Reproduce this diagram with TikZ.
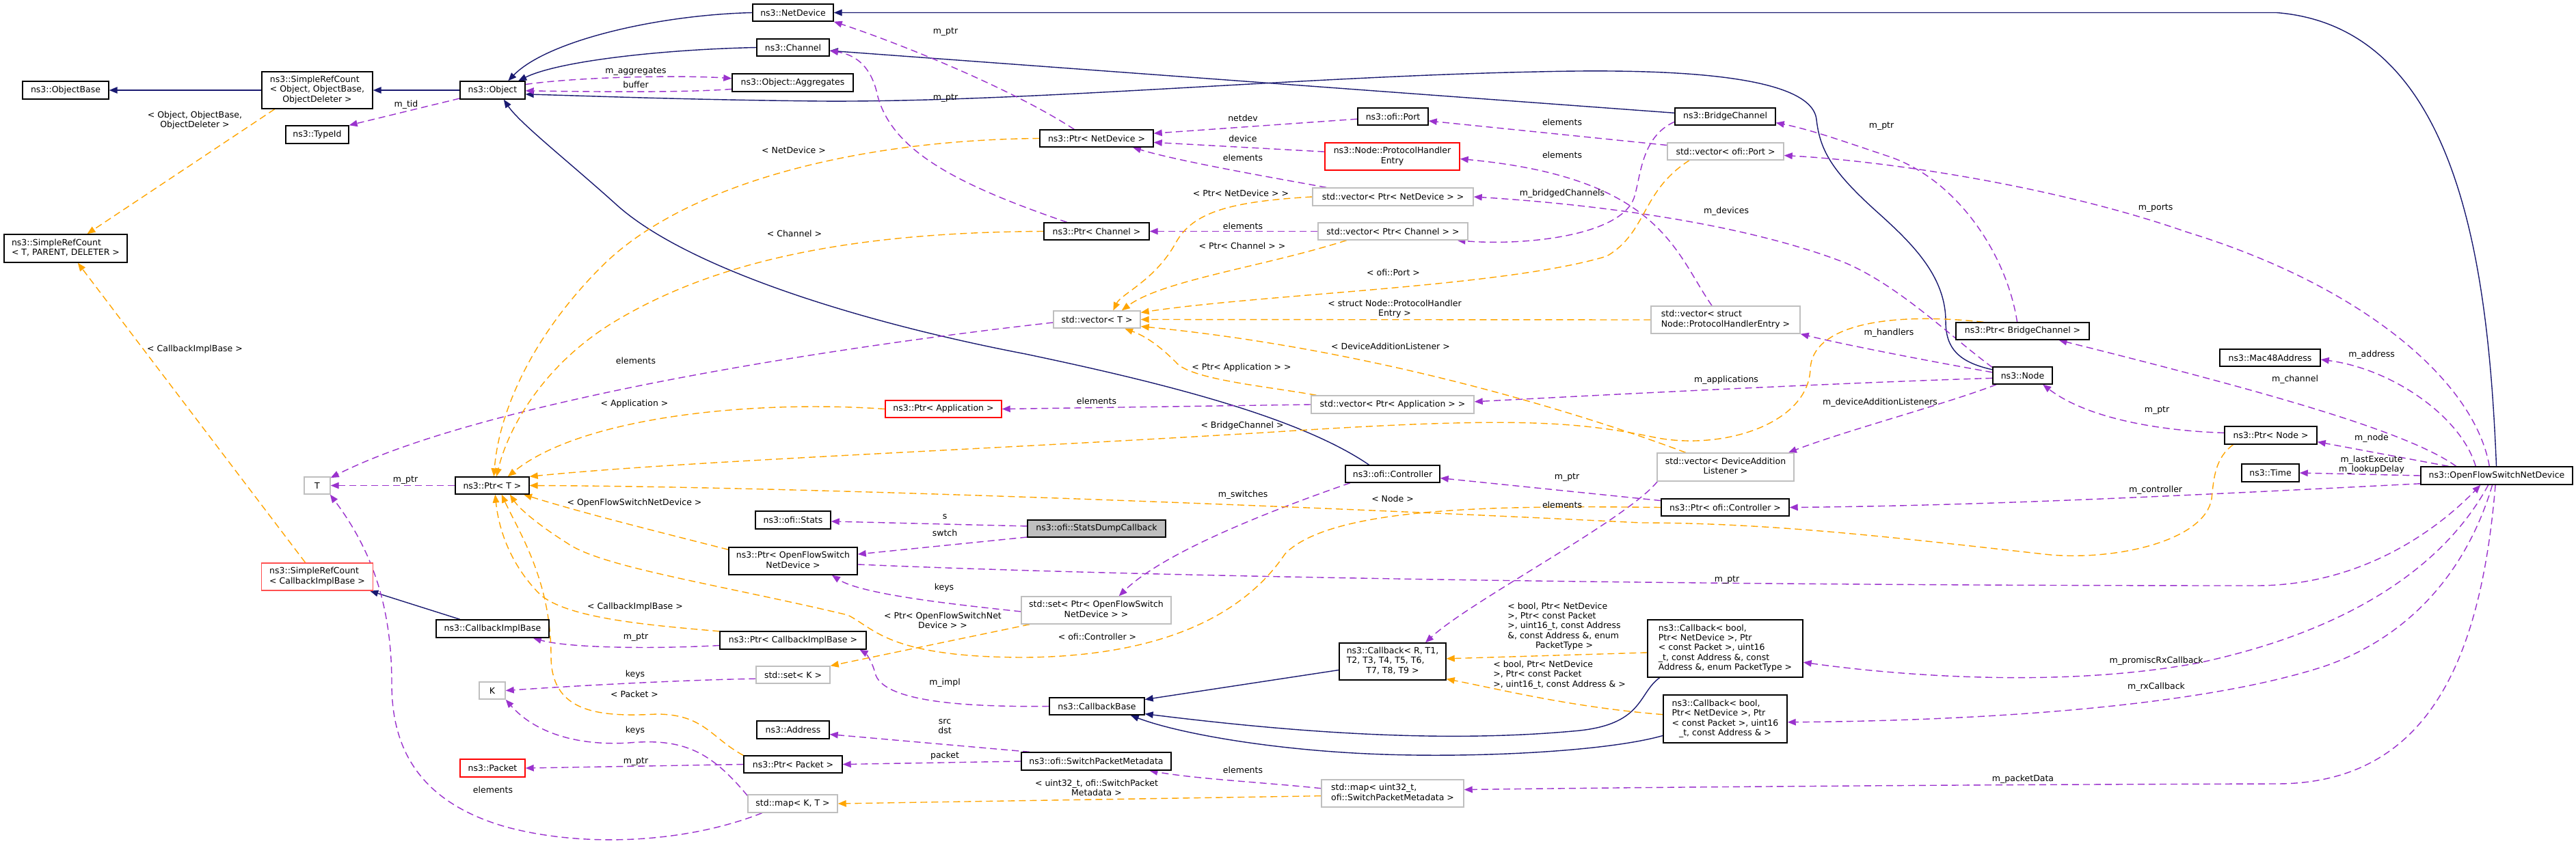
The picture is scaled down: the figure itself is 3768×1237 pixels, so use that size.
\documentclass[tikz,border=0pt]{standalone}
\usepackage{fontspec}
\setmainfont{DejaVu Sans}
\usetikzlibrary{arrows.meta}
\definecolor{inhblue}{RGB}{25,25,112}
\definecolor{usepurple}{RGB}{154,50,205}
\definecolor{tplorange}{RGB}{255,165,0}
\definecolor{boxgray}{RGB}{191,191,191}
\definecolor{boxred}{RGB}{255,0,0}
\definecolor{boxlred}{RGB}{255,80,80}
\newcommand{\twol}[2]{\begin{tabular}{@{}l@{}}#1\\\multicolumn{1}{@{}c@{}}{#2}\end{tabular}}
\pgfdeclarelayer{edgelayer}
\pgfsetlayers{edgelayer,main}
\tikzset{
  box/.style={draw=black, line width=1.4pt, fill=white, inner sep=2pt, text=black},
  gbox/.style={box, draw=boxgray},
  rbox/.style={box, draw=boxred},
  sz/.style 2 args={minimum width=#1pt, minimum height=#2pt},
  lbl/.style={inner sep=0pt, align=center, text=black},
  tip/.style={-{Triangle[length=12pt,width=9.5pt]}},
  inh/.style={tip, draw=inhblue, line width=1.4pt},
  use/.style={tip, draw=usepurple, line width=1.4pt, dash pattern=on 10pt off 6pt},
  tpl/.style={tip, draw=tplorange, line width=1.4pt, dash pattern=on 10pt off 6pt},
}
\begin{document}
\begin{tikzpicture}[x=1pt, y=-1pt, font=\fontsize{12.5pt}{14.4pt}\selectfont]
\useasboundingbox (0,0) rectangle (3768,1237);
% ---------------- nodes ----------------
\node[box,sz={126}{26}] (ObjectBase) at (96,132) {ns3::ObjectBase};
\node[box,sz={162}{54}] (SRCobj) at (464,132) {\twol{ns3::SimpleRefCount\\< Object, ObjectBase,}{ObjectDeleter >}};
\node[box,sz={95}{26}] (Object) at (720.5,132) {ns3::Object};
\node[box,sz={92}{26}] (TypeId) at (464,197) {ns3::TypeId};
\node[box,sz={180}{41}] (SRCT) at (96,363.5) {\twol{ns3::SimpleRefCount}{< T, PARENT, DELETER >}};
\node[gbox,sz={38}{25}] (T) at (464,710.5) {T};
\node[box,sz={108}{25}] (PtrT) at (720,710.5) {ns3::Ptr< T >};
\node[box,draw=boxlred,sz={163}{40}] (SRCcib) at (464,844) {\twol{ns3::SimpleRefCount}{< CallbackImplBase >}};
\node[box,sz={165}{26}] (CIB) at (720.5,920) {ns3::CallbackImplBase};
\node[gbox,sz={38}{25}] (K) at (720,1010.5) {K};
\node[rbox,sz={95}{26}] (Packet) at (720.5,1124) {ns3::Packet};
\node[box,sz={118}{25}] (NetDevice) at (1160,18.5) {ns3::NetDevice};
\node[box,sz={106}{25}] (Channel) at (1160,69.5) {ns3::Channel};
\node[box,sz={177}{26}] (Aggregates) at (1159.5,121) {ns3::Object::Aggregates};
\node[box,sz={166}{25}] (PtrNetDevice) at (1604,202.5) {ns3::Ptr< NetDevice >};
\node[box,sz={154}{25}] (PtrChannel) at (1604,338.5) {ns3::Ptr< Channel >};
\node[gbox,sz={127}{25}] (vecT) at (1604.5,467.5) {std::vector< T >};
\node[rbox,sz={170}{25}] (PtrApp) at (1380,598.5) {ns3::Ptr< Application >};
\node[box,sz={110}{26}] (Stats) at (1160,761) {ns3::ofi::Stats};
\node[box,fill=boxgray,sz={202}{25}] (SDC) at (1604,773.5) {ns3::ofi::StatsDumpCallback};
\node[box,sz={188}{40}] (PtrOFSND) at (1160,821) {\twol{ns3::Ptr< OpenFlowSwitch}{NetDevice >}};
\node[gbox,sz={219}{40}] (setPtrOFSND) at (1603.5,893) {\twol{std::set< Ptr< OpenFlowSwitch}{NetDevice > >}};
\node[box,sz={214}{26}] (PtrCIB) at (1160,937) {ns3::Ptr< CallbackImplBase >};
\node[gbox,sz={108}{25}] (setK) at (1160,987.5) {std::set< K >};
\node[box,sz={139}{25}] (CallbackBase) at (1604.5,1033.5) {ns3::CallbackBase};
\node[box,sz={106}{26}] (Address) at (1160,1068) {ns3::Address};
\node[box,sz={144}{25}] (PtrPacket) at (1160,1118.5) {ns3::Ptr< Packet >};
\node[box,sz={219}{26}] (SPM) at (1603.5,1114) {ns3::ofi::SwitchPacketMetadata};
\node[gbox,sz={131}{26}] (mapKT) at (1159.5,1176) {std::map< K, T >};
\node[box,sz={103}{25}] (Port) at (2037.5,170.5) {ns3::ofi::Port};
\node[rbox,sz={197}{40}] (PHE) at (2036.5,229) {\twol{ns3::Node::ProtocolHandler}{Entry}};
\node[box,sz={147}{25}] (BridgeChannel) at (2523.5,170.5) {ns3::BridgeChannel};
\node[gbox,sz={170}{25}] (vecPort) at (2524,221.5) {std::vector< ofi::Port >};
\node[gbox,sz={235}{26}] (vecPtrND) at (2037.5,288) {std::vector< Ptr< NetDevice > >};
\node[gbox,sz={219}{25}] (vecPtrCh) at (2037.5,338.5) {std::vector< Ptr< Channel > >};
\node[gbox,sz={218}{40}] (vecPHE) at (2524,468) {\twol{std::vector< struct}{Node::ProtocolHandlerEntry >}};
\node[gbox,sz={238}{26}] (vecPtrApp) at (2037,592) {std::vector< Ptr< Application > >};
\node[box,sz={138}{25}] (Controller) at (2037,693.5) {ns3::ofi::Controller};
\node[gbox,sz={200}{41}] (vecDAL) at (2524,683.5) {\twol{std::vector< DeviceAddition}{Listener >}};
\node[box,sz={187}{25}] (PtrController) at (2523.5,742.5) {ns3::Ptr< ofi::Controller >};
\node[box,sz={156}{54}] (CallbackR) at (2037,968) {\twol{ns3::Callback< R, T1,\\T2, T3, T4, T5, T6,}{T7, T8, T9 >}};
\node[box,sz={227}{84}] (CallbackPT) at (2523.5,949) {\twol{ns3::Callback< bool,\\ Ptr< NetDevice >, Ptr\\< const Packet >, uint16\\\_t, const Address \&, const}{ Address \&, enum PacketType >}};
\node[box,sz={181}{70}] (CallbackAddr) at (2523.5,1052) {\twol{ns3::Callback< bool,\\ Ptr< NetDevice >, Ptr\\< const Packet >, uint16}{\_t, const Address \& >}};
\node[gbox,sz={208}{40}] (mapU32) at (2037,1161) {\twol{std::map< uint32\_t,}{ofi::SwitchPacketMetadata >}};
\node[box,sz={195}{25}] (PtrBridge) at (2958.5,484.5) {ns3::Ptr< BridgeChannel >};
\node[box,sz={87}{25}] (Node) at (2958.5,549.5) {ns3::Node};
\node[box,sz={147}{25}] (Mac48) at (3320.5,523.5) {ns3::Mac48Address};
\node[box,sz={135}{26}] (PtrNode) at (3321.5,637) {ns3::Ptr< Node >};
\node[box,sz={84}{26}] (Time) at (3321,692) {ns3::Time};
\node[box,sz={222}{26}] (OFSND) at (3652,696) {ns3::OpenFlowSwitchNetDevice};
% ---------------- edge labels ----------------
\node[lbl] (l01) at (285,176) {< Object, ObjectBase,\\ObjectDeleter >};
\node[lbl] (l02) at (594,153) {m\_tid};
\node[lbl] (l03) at (285,511) {< CallbackImplBase >};
\node[lbl] (l04) at (593,703) {m\_ptr};
\node[lbl] (l05) at (930,528) {elements};
\node[lbl] (l06) at (928,591) {< Application >};
\node[lbl] (l07) at (928,736) {< OpenFlowSwitchNetDevice >};
\node[lbl] (l08) at (721,1156) {elements};
\node[lbl] (l09) at (929,987) {keys};
\node[lbl] (l10) at (928,1016) {< Packet >};
\node[lbl] (l11) at (929,1069) {keys};
\node[lbl] (l12) at (930,933) {m\_ptr};
\node[lbl] (l13) at (930,1115) {m\_ptr};
\node[lbl] (l14) at (929,888) {< CallbackImplBase >};
\node[lbl] (l15) at (1383,47) {m\_ptr};
\node[lbl] (l16) at (1383,144) {m\_ptr};
\node[lbl] (l17) at (930,105) {m\_aggregates};
\node[lbl] (l18) at (930,124) {buffer};
\node[lbl] (l19) at (1161,220) {< NetDevice >};
\node[lbl] (l20) at (1162,342) {< Channel >};
\node[lbl] (l21) at (1818,173) {netdev};
\node[lbl] (l22) at (1818,203) {device};
\node[lbl] (l23) at (1818,231) {elements};
\node[lbl] (l24) at (1815,283) {< Ptr< NetDevice > >};
\node[lbl] (l25) at (1818,331) {elements};
\node[lbl] (l26) at (1817,360) {< Ptr< Channel > >};
\node[lbl] (l27) at (1604,587) {elements};
\node[lbl] (l28) at (1816,538) {< Ptr< Application > >};
\node[lbl] (l29) at (1817,623) {< BridgeChannel >};
\node[lbl] (l30) at (1818,724) {m\_switches};
\node[lbl] (l31) at (1382,756) {s};
\node[lbl] (l32) at (1382,780) {swtch};
\node[lbl] (l33) at (1381,860) {keys};
\node[lbl] (l34) at (1379,908) {< Ptr< OpenFlowSwitchNet\\Device > >};
\node[lbl] (l35) at (1605,932) {< ofi::Controller >};
\node[lbl] (l36) at (1382,999) {m\_impl};
\node[lbl] (l37) at (1382,1063) {src\\dst};
\node[lbl] (l38) at (1382,1106) {packet};
\node[lbl] (l39) at (1818,1127) {elements};
\node[lbl] (l40) at (1604,1153) {< uint32\_t, ofi::SwitchPacket\\Metadata >};
\node[lbl] (l41) at (2285,179) {elements};
\node[lbl] (l42) at (2285,227) {elements};
\node[lbl] (l43) at (2285,283) {m\_bridgedChannels};
\node[lbl] (l44) at (2525,309) {m\_devices};
\node[lbl] (l45) at (2752,185) {m\_ptr};
\node[lbl] (l46) at (2038,399) {< ofi::Port >};
\node[lbl] (l47) at (2040,452) {< struct Node::ProtocolHandler\\Entry >};
\node[lbl] (l48) at (2034,507) {< DeviceAdditionListener >};
\node[lbl] (l49) at (2525,556) {m\_applications};
\node[lbl] (l50) at (2763,487) {m\_handlers};
\node[lbl] (l51) at (2750,589) {m\_deviceAdditionListeners};
\node[lbl] (l52) at (2292,699) {m\_ptr};
\node[lbl] (l53) at (2037,730) {< Node >};
\node[lbl] (l54) at (2285,739) {elements};
\node[lbl] (l55) at (2526,849) {m\_ptr};
\node[lbl] (l56) at (2288,917) {\twol{< bool, Ptr< NetDevice\\>, Ptr< const Packet\\>, uint16\_t, const Address\\\&, const Address \&, enum}{PacketType >}};
\node[lbl] (l57) at (2281,988) {\twol{< bool, Ptr< NetDevice\\>, Ptr< const Packet}{>, uint16\_t, const Address \& >}};
\node[lbl] (l58) at (3153,305) {m\_ports};
\node[lbl] (l59) at (3469,519) {m\_address};
\node[lbl] (l60) at (3357,555) {m\_channel};
\node[lbl] (l61) at (3155,601) {m\_ptr};
\node[lbl] (l62) at (3469,641) {m\_node};
\node[lbl] (l63) at (3469,680) {m\_lastExecute\\m\_lookupDelay};
\node[lbl] (l64) at (3153,717) {m\_controller};
\node[lbl] (l65) at (3154,967) {m\_promiscRxCallback};
\node[lbl] (l66) at (3154,1005) {m\_rxCallback};
\node[lbl] (l67) at (2959,1140) {m\_packetData};
% ---------------- edges ----------------
\begin{pgfonlayer}{edgelayer}
\fill[white] (0,0) rectangle (3768,1237);
% inheritance
\draw[inh] (SRCobj.west) -- (ObjectBase.east);
\draw[inh] (Object.west) -- (SRCobj.east);
\draw[inh] (NetDevice.west) .. controls (960,22) and (800,60) .. (Object.31);
\draw[inh] (Channel.west) .. controls (980,72) and (820,88) .. (Object.20);
\draw[inh] (Node.169) .. controls (2865,530) and (2846,510) .. (2846,470) .. controls (2846,400) and (2790,350) .. (2740,305) .. controls (2680,250) and (2662,220) .. (2657,175) .. controls (2650,110) and (2450,100) .. (2250,105) .. controls (1900,112) and (1500,150) .. (1200,148) .. controls (1000,146) and (850,140) .. (Object.353);
\draw[inh] (Controller.159) .. controls (1900,610) and (1700,560) .. (1500,518) .. controls (1250,470) and (1000,390) .. (900,298) .. controls (830,235) and (760,180) .. (Object.320);
\draw[inh] (BridgeChannel.176) -- (Channel.355);
\draw[inh] (OFSND.92) .. controls (3640,400) and (3600,40) .. (3330,18.5) -- (NetDevice.east);
\draw[inh] (CIB.164) -- (SRCcib.345);
\draw[inh] (CallbackR.189) -- (CallbackBase.8);
\draw[inh] (CallbackPT.204) .. controls (2395,1015) and (2405,1062) .. (2300,1070) .. controls (2100,1088) and (1880,1070) .. (CallbackBase.351);
\draw[inh] (CallbackAddr.195) .. controls (2350,1100) and (2150,1110) .. (2000,1103) .. controls (1850,1096) and (1720,1072) .. (CallbackBase.345);
% usage
\draw[use] (Object.194) -- (TypeId.north east);
\draw[use] (Object.10) .. controls (850,112) and (1000,110) .. (Aggregates.176);
\draw[use] (Aggregates.186) .. controls (1000,136) and (850,134) .. (Object.359);
\draw[use] (PtrNetDevice.158) .. controls (1480,130) and (1320,65) .. (NetDevice.south east);
\draw[use] (PtrChannel.163) .. controls (1400,270) and (1300,220) .. (1282,133) .. controls (1272,95) and (1250,80) .. (Channel.355);
\draw[use] (Port.184) -- (PtrNetDevice.5);
\draw[use] (PHE.176) -- (PtrNetDevice.356);
\draw[use] (vecPtrND.172) .. controls (1850,258) and (1720,235) .. (PtrNetDevice.346);
\draw[use] (vecPtrCh.west) -- (PtrChannel.east);
\draw[use] (vecPort.174) -- (Port.353);
\draw[use] (vecPHE.134) .. controls (2450,370) and (2430,260) .. (PHE.358);
\draw[use] (BridgeChannel.186) .. controls (2400,200) and (2400,260) .. (2390,290) .. controls (2370,345) and (2230,360) .. (vecPtrCh.352);
\draw[use] (Node.165) .. controls (2850,490) and (2780,420) .. (2700,385) .. controls (2560,330) and (2350,300) .. (vecPtrND.east);
\draw[use] (Node.174) .. controls (2830,530) and (2700,505) .. (vecPHE.south east);
\draw[use] (Node.185) .. controls (2700,560) and (2400,575) .. (vecPtrApp.2);
\draw[use] (Node.199) .. controls (2850,590) and (2700,630) .. (vecDAL.13);
\draw[use] (vecDAL.192) .. controls (2380,760) and (2150,880) .. (CallbackR.30);
\draw[use] (vecPtrApp.west) -- (PtrApp.east);
\draw[use] (vecT.184) .. controls (1200,510) and (700,590) .. (T.30);
\draw[use] (PtrT.west) -- (T.east);
\draw[use] (mapKT.197) .. controls (1000,1235) and (850,1240) .. (740,1210) .. controls (600,1170) and (573,1080) .. (573,1000) .. controls (573,880) and (540,800) .. (T.325);
\draw[use] (mapKT.170) .. controls (1040,1100) and (1000,1080) .. (920,1087) .. controls (840,1092) and (780,1070) .. (K.south east);
\draw[use] (setK.186) .. controls (1000,995) and (850,1003) .. (K.east);
\draw[use] (PtrCIB.184) .. controls (950,950) and (830,948) .. (CIB.347);
\draw[use] (PtrPacket.west) -- (Packet.east);
\draw[use] (CallbackBase.west) .. controls (1400,1035) and (1290,1025) .. (1280,985) .. controls (1275,965) and (1265,955) .. (PtrCIB.352);
\draw[use] (SPM.172) -- (Address.353);
\draw[use] (SPM.west) -- (PtrPacket.east);
\draw[use] (setPtrOFSND.181) .. controls (1400,885) and (1260,870) .. (PtrOFSND.340);
\draw[use] (SDC.178) -- (Stats.358);
\draw[use] (SDC.187) -- (PtrOFSND.6);
\draw[use] (Controller.192) .. controls (1850,750) and (1700,810) .. (setPtrOFSND.32);
\draw[use] (PtrController.174) -- (Controller.355);
\draw[use] (PtrNode.177) .. controls (3150,630) and (3050,610) .. (Node.336);
\draw[use] (PtrBridge.121) .. controls (2935,370) and (2860,260) .. (2760,228) .. controls (2700,208) and (2650,190) .. (BridgeChannel.353);
\draw[use] (OFSND.128) .. controls (3620,560) and (3460,420) .. (3200,340) .. controls (3000,270) and (2750,235) .. (vecPort.356);
\draw[use] (OFSND.156) .. controls (3600,610) and (3500,540) .. (Mac48.358);
\draw[use] (OFSND.167) .. controls (3520,630) and (3300,570) .. (PtrBridge.346);
\draw[use] (OFSND.169) -- (PtrNode.352);
\draw[use] (OFSND.west) -- (Time.east);
\draw[use] (OFSND.186) .. controls (3200,725) and (2900,740) .. (PtrController.east);
\draw[use] (PtrOFSND.357) .. controls (1700,845) and (2500,857) .. (3300,857) .. controls (3450,857) and (3560,780) .. (OFSND.210);
\draw[use] (OFSND.228) .. controls (3580,820) and (3450,920) .. (3216,970) .. controls (3000,1010) and (2750,985) .. (CallbackPT.350);
\draw[use] (OFSND.245) .. controls (3610,830) and (3530,930) .. (3400,975) .. controls (3200,1040) and (2850,1055) .. (CallbackAddr.357);
\draw[use] (OFSND.262) .. controls (3630,950) and (3560,1147) .. (3330,1147) .. controls (2900,1148) and (2400,1152) .. (mapU32.3);
\draw[use] (mapU32.176) .. controls (1850,1145) and (1750,1140) .. (SPM.350);
% templates
\draw[tpl] (SRCobj.204) -- (SRCT.34);
\draw[tpl] (SRCcib.130) -- (SRCT.310);
\draw[tpl] (PtrNetDevice.west) .. controls (1250,205) and (1000,270) .. (880,390) .. controls (780,490) and (730,600) .. (PtrT.80);
\draw[tpl] (PtrChannel.west) .. controls (1250,340) and (1050,380) .. (900,470) .. controls (800,530) and (745,620) .. (PtrT.65);
\draw[tpl] (PtrApp.west) .. controls (1100,585) and (850,610) .. (PtrT.30);
\draw[tpl] (PtrBridge.167) .. controls (2750,455) and (2650,480) .. (2648,540) .. controls (2645,620) and (2520,660) .. (2420,640) .. controls (2300,615) and (2200,610) .. (1850,633) .. controls (1400,660) and (1000,675) .. (PtrT.north east);
\draw[tpl] (PtrNode.194) .. controls (3240,670) and (3238,700) .. (3235,730) .. controls (3225,790) and (3100,820) .. (3000,812) .. controls (2800,790) and (2600,765) .. (2400,765) .. controls (2000,745) and (1200,712) .. (PtrT.east);
\draw[tpl] (PtrOFSND.170) .. controls (950,775) and (850,750) .. (PtrT.344);
\draw[tpl] (PtrController.west) .. controls (2200,740) and (1950,740) .. (1880,810) .. controls (1820,900) and (1700,960) .. (1500,962) .. controls (1300,962) and (1280,920) .. (1240,900) .. controls (1050,855) and (880,830) .. (830,795) .. controls (790,770) and (760,745) .. (PtrT.333);
\draw[tpl] (PtrCIB.173) .. controls (950,915) and (830,905) .. (790,870) .. controls (750,830) and (730,780) .. (PtrT.288);
\draw[tpl] (PtrPacket.north west) .. controls (1040,1080) and (1030,1045) .. (960,1045) .. controls (870,1050) and (806,1040) .. (806,960) .. controls (806,850) and (760,780) .. (PtrT.316);
\draw[tpl] (setPtrOFSND.192) -- (setK.north east);
\draw[tpl] (mapU32.182) -- (mapKT.east);
\draw[tpl] (CallbackPT.183) -- (CallbackR.3);
\draw[tpl] (CallbackAddr.176) .. controls (2300,1035) and (2200,1010) .. (CallbackR.342);
\draw[tpl] (vecPtrND.west) .. controls (1800,295) and (1745,310) .. (1720,355) .. controls (1690,410) and (1640,430) .. (vecT.29);
\draw[tpl] (vecPtrCh.191) .. controls (1850,390) and (1700,410) .. (vecT.20);
\draw[tpl] (vecPort.194) .. controls (2400,280) and (2410,340) .. (2350,375) .. controls (2200,420) and (1850,430) .. (vecT.9);
\draw[tpl] (vecPHE.west) -- (vecT.east);
\draw[tpl] (vecDAL.160) .. controls (2300,600) and (2000,510) .. (vecT.351);
\draw[tpl] (vecPtrApp.173) .. controls (1850,565) and (1740,555) .. (1720,530) .. controls (1690,500) and (1670,490) .. (vecT.342);
\end{pgfonlayer}
\end{tikzpicture}
\end{document}
